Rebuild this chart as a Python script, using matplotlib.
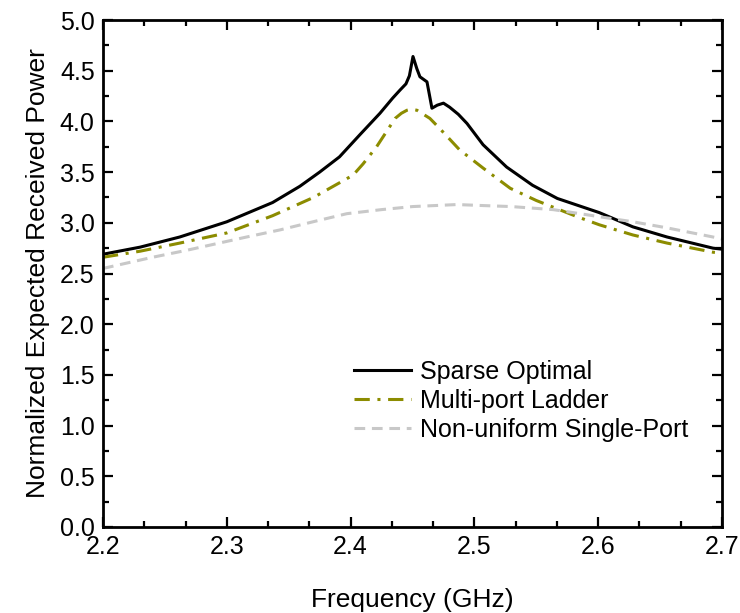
import matplotlib
matplotlib.use('Agg')
import matplotlib.pyplot as plt
from matplotlib.ticker import MultipleLocator, AutoMinorLocator

plt.rcParams['font.family'] = ['Liberation Sans', 'DejaVu Sans']

# Sparse Optimal (black solid)
freq_sparse = [2.200, 2.230, 2.262, 2.300, 2.337, 2.359, 2.375, 2.391, 2.4076,
               2.4237, 2.434, 2.440, 2.4447, 2.4475, 2.4504, 2.4535, 2.456,
               2.4617, 2.4657, 2.470, 2.475, 2.480, 2.487, 2.494, 2.507,
               2.526, 2.547, 2.567, 2.584, 2.601, 2.628, 2.6556, 2.6927, 2.700]
power_sparse = [2.69, 2.76, 2.86, 3.01, 3.20, 3.36, 3.50, 3.65, 3.87,
                4.08, 4.23, 4.31, 4.37, 4.45, 4.64, 4.52, 4.44,
                4.39, 4.13, 4.16, 4.18, 4.14, 4.07, 3.98, 3.77,
                3.55, 3.37, 3.24, 3.17, 3.10, 2.96, 2.86, 2.75, 2.74]

# Multi-port Ladder (olive dash-dot)
freq_ladder = [2.200, 2.230, 2.262, 2.300, 2.337, 2.370, 2.386, 2.402, 2.410,
               2.421, 2.436, 2.441, 2.4455, 2.449, 2.4536, 2.464, 2.472,
               2.488, 2.507, 2.529, 2.550, 2.583, 2.601, 2.628, 2.6556,
               2.6927, 2.700]
power_ladder = [2.66, 2.72, 2.80, 2.90, 3.07, 3.25, 3.36, 3.47, 3.58,
                3.75, 4.03, 4.08, 4.11, 4.12, 4.11, 4.03, 3.93,
                3.72, 3.54, 3.34, 3.22, 3.06, 2.98, 2.88, 2.80,
                2.71, 2.70]

# Non-uniform Single-Port (gray dashed)
freq_single = [2.200, 2.240, 2.268, 2.316, 2.343, 2.373, 2.397, 2.425, 2.450,
               2.486, 2.507, 2.530, 2.5635, 2.5747, 2.601, 2.628, 2.6556,
               2.6927, 2.700]
power_single = [2.55, 2.66, 2.73, 2.86, 2.93, 3.02, 3.09, 3.13, 3.16,
                3.18, 3.17, 3.16, 3.13, 3.11, 3.06, 3.01, 2.95,
                2.86, 2.84]

fig = plt.figure(figsize=(7.40, 6.13), dpi=100)
ax = fig.add_axes([103 / 740, 1 - 527 / 613, 619 / 740, 507 / 613])

ax.plot(freq_sparse, power_sparse, color='black', linewidth=2.2,
        label='Sparse Optimal')
ax.plot(freq_ladder, power_ladder, color='#8c8c00', linewidth=2.2,
        linestyle=(0, (5, 2.5, 1, 2.5)), label='Multi-port Ladder')
ax.plot(freq_single, power_single, color='#c8c8c8', linewidth=2.2,
        linestyle=(0, (3.5, 2.2)), label='Non-uniform Single-Port')

ax.set_xlim(2.2, 2.7)
ax.set_ylim(0, 5.0)
ax.xaxis.set_major_locator(MultipleLocator(0.1))
ax.xaxis.set_minor_locator(AutoMinorLocator(3))
ax.yaxis.set_major_locator(MultipleLocator(0.5))
ax.yaxis.set_minor_locator(AutoMinorLocator(2))
ax.xaxis.set_major_formatter(plt.FormatStrFormatter('%.1f'))
ax.yaxis.set_major_formatter(plt.FormatStrFormatter('%.1f'))

ax.tick_params(which='both', direction='in', top=True, right=True,
               width=1.6, labelsize=18)
ax.tick_params(which='major', length=7, pad=6)
ax.tick_params(which='minor', length=4)
for sp in ax.spines.values():
    sp.set_linewidth(2.0)

ax.set_xlabel('Frequency (GHz)', fontsize=19, labelpad=21)
ax.set_ylabel('Normalized Expected Received Power', fontsize=19, labelpad=7)

ax.legend(loc='upper left', bbox_to_anchor=(0.405, 0.33), frameon=False,
          fontsize=18, handlelength=2.3, handletextpad=0.35,
          labelspacing=0.2, borderpad=0, borderaxespad=0)

fig.savefig('out.png', dpi=100)
